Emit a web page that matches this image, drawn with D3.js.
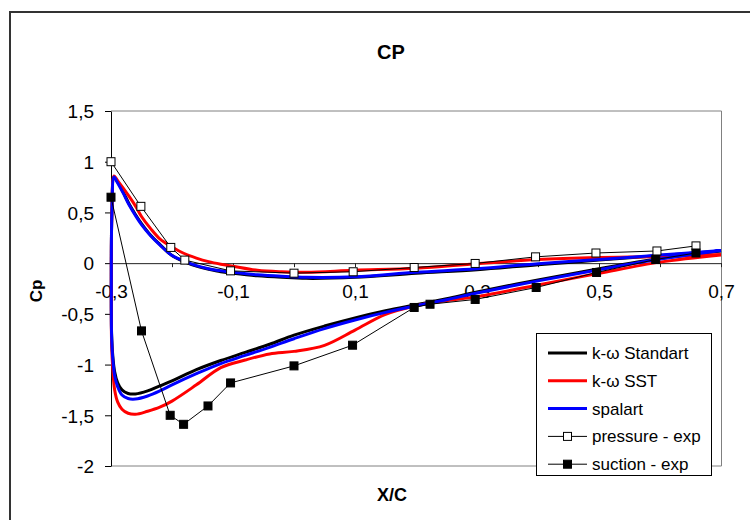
<!DOCTYPE html>
<html>
<head>
<meta charset="utf-8">
<script src="https://cdn.jsdelivr.net/npm/d3@7"></script>
<style>
  html, body { margin: 0; padding: 0; background: #fff; }
  svg { display: block; font-family: "Liberation Sans", Arial, sans-serif; }
</style>
</head>
<body>
<svg id="chart" width="750" height="520"></svg>
<script>
// Pressure coefficient distributions: three turbulence models vs. experiment.

// Suction side stations (from the stagnation point to the trailing edge)
const suctionX = [-0.295, -0.2985, -0.2995, -0.2995, -0.299, -0.297, -0.294, -0.289, -0.282, -0.272,
                  -0.26, -0.24, -0.22, -0.2, -0.16, -0.12, -0.08, -0.04, 0, 0.05,
                  0.1, 0.15, 0.2, 0.25, 0.3, 0.4, 0.5, 0.6, 0.7];
const suctionKwStd = [0.85, 0.5, 0.0, -0.4, -0.7, -0.92, -1.07, -1.18, -1.25, -1.285,
                      -1.29, -1.26, -1.21, -1.16, -1.05, -0.96, -0.88, -0.80, -0.71, -0.62,
                      -0.54, -0.47, -0.41, -0.35, -0.285, -0.165, -0.055, 0.045, 0.12];
const suctionKwSst = [0.86, 0.5, 0.0, -0.4, -0.8, -1.05, -1.25, -1.37, -1.44, -1.48,
                      -1.49, -1.46, -1.42, -1.36, -1.2, -1.03, -0.955, -0.895, -0.87, -0.81,
                      -0.66, -0.505, -0.42, -0.37, -0.33, -0.215, -0.1, 0.01, 0.08];
const suctionSpalart = [0.85, 0.5, 0.0, -0.4, -0.72, -0.95, -1.11, -1.22, -1.3, -1.335,
                        -1.34, -1.31, -1.26, -1.2, -1.09, -0.99, -0.91, -0.83, -0.745, -0.645,
                        -0.56, -0.485, -0.42, -0.36, -0.295, -0.175, -0.065, 0.04, 0.125];

// Pressure side stations (from the stagnation point to the trailing edge)
const pressureX = [-0.295, -0.29, -0.28, -0.27, -0.26, -0.25, -0.235, -0.22, -0.2, -0.18,
                   -0.16, -0.14, -0.12, -0.1, -0.06, -0.02, 0.02, 0.1, 0.2, 0.3,
                   0.4, 0.5, 0.6, 0.7];
const pressureKwStd = [0.86, 0.81, 0.70, 0.58, 0.48, 0.39, 0.275, 0.185, 0.075, 0.015,
                       -0.03, -0.06, -0.085, -0.10, -0.125, -0.14, -0.15, -0.14, -0.10, -0.065,
                       -0.015, 0.03, 0.075, 0.12];
const pressureKwSst = [0.86, 0.82, 0.74, 0.655, 0.565, 0.46, 0.34, 0.24, 0.16, 0.095,
                       0.05, 0.015, -0.01, -0.03, -0.07, -0.085, -0.09, -0.07, -0.05, -0.005,
                       0.035, 0.055, 0.065, 0.085];
const pressureSpalart = [0.85, 0.80, 0.69, 0.57, 0.47, 0.38, 0.27, 0.18, 0.075, 0.02,
                         -0.025, -0.055, -0.075, -0.09, -0.115, -0.13, -0.14, -0.135, -0.09, -0.055,
                         -0.005, 0.035, 0.08, 0.125];

// Experimental data
const pressureExpX = [-0.3, -0.251, -0.202, -0.179, -0.104, 0.0, 0.097, 0.197, 0.297, 0.396, 0.495, 0.595, 0.659];
const pressureExpCp = [1.0, 0.56, 0.155, 0.03, -0.076, -0.099, -0.085, -0.043, -0.003, 0.062, 0.10, 0.12, 0.17];
const suctionExpX = [-0.3, -0.25, -0.203, -0.181, -0.141, -0.104, 0.0, 0.096, 0.197, 0.223, 0.297, 0.397, 0.496, 0.593, 0.659];
const suctionExpCp = [0.65, -0.668, -1.50, -1.589, -1.408, -1.181, -1.013, -0.809, -0.437, -0.405, -0.358, -0.24, -0.092, 0.036, 0.10];

// Axis ticks
const xTicks = [-0.3, -0.2, -0.1, 0, 0.1, 0.2, 0.3, 0.4, 0.5, 0.6, 0.7];
const xTickLabels = [-0.3, -0.1, 0.1, 0.3, 0.5, 0.7];
const yTicks = [-2, -1.5, -1, -0.5, 0, 0.5, 1, 1.5];

const seriesNames = ["k-ω Standart", "k-ω SST", "spalart", "pressure - exp", "suction - exp"];
const seriesColors = ["#000000", "#ff0000", "#0000ff", "#000000", "#000000"];

const svg = d3.select("#chart");
const fmt = v => String(+v.toFixed(1)).replace(".", ",");

// outer chart frame
svg.append("rect").attr("x", 10).attr("y", 12).attr("width", 760).attr("height", 540)
  .attr("fill", "#fff").attr("stroke", "#333").attr("stroke-width", 2);

const x = d3.scaleLinear().domain([-0.3, 0.7]).range([111, 721]);
const y = d3.scaleLinear().domain([-2, 1.5]).range([466, 111]);

// plot area frame (top, right, bottom)
const [x0, x1] = x.range();
const [yb, yt] = y.range();
svg.append("path")
  .attr("d", `M${x0},${yt}H${x1 + 0.5}V${yb}H${x0}`)
  .attr("fill", "none").attr("stroke", "#808080").attr("stroke-width", 1);

// title and axis titles
svg.append("text").attr("x", 391).attr("y", 59).attr("text-anchor", "middle")
  .attr("font-size", 20).attr("font-weight", "bold").text("CP");
svg.append("text").attr("x", 392).attr("y", 501).attr("text-anchor", "middle")
  .attr("font-size", 18).attr("font-weight", "bold").text("X/C");
svg.append("text").attr("transform", "translate(42,291) rotate(-90)").attr("text-anchor", "middle")
  .attr("font-size", 17).attr("font-weight", "bold").text("Cp");

// y axis
const yAxis = svg.append("g").attr("transform", `translate(${x0},0)`)
  .call(d3.axisLeft(y).tickValues(yTicks).tickFormat(fmt).tickSize(6).tickSizeOuter(0).tickPadding(11));
yAxis.selectAll("path, line").attr("stroke", "#000");
yAxis.selectAll("text").attr("font-size", 19).attr("font-family", "Liberation Sans, Arial, sans-serif")
  .attr("fill", "#000").attr("dy", "0.36em");

// x axis crossing at cp = 0
const xAxis = svg.append("g").attr("transform", `translate(0,${y(0)})`)
  .call(d3.axisBottom(x).tickValues(xTicks)
    .tickFormat(d => xTickLabels.some(v => Math.abs(v - d) < 1e-9) ? fmt(d) : "")
    .tickSize(4).tickSizeOuter(0).tickPadding(17));
xAxis.selectAll("path, line").attr("stroke", "#222");
xAxis.selectAll("text").attr("font-size", 19).attr("font-family", "Liberation Sans, Arial, sans-serif")
  .attr("fill", "#000");

// CFD curves
const line = d3.line().x(d => x(d[0])).y(d => y(d[1])).curve(d3.curveCatmullRom.alpha(0.5));
const loop = (sx, sv, px, pv) => {
  const s = sx.map((v, i) => [v, sv[i]]).reverse();
  const p = px.map((v, i) => [v, pv[i]]).slice(1);
  return s.concat(p);
};
const models = [
  loop(suctionX, suctionKwStd, pressureX, pressureKwStd),
  loop(suctionX, suctionKwSst, pressureX, pressureKwSst),
  loop(suctionX, suctionSpalart, pressureX, pressureSpalart)
];
models.forEach((pts, i) => {
  svg.append("path").datum(pts).attr("d", line)
    .attr("fill", "none").attr("stroke", seriesColors[i]).attr("stroke-width", 3)
    .attr("stroke-linejoin", "round");
});

// experimental series
const expLine = d3.line().x(d => x(d[0])).y(d => y(d[1]));
const expSeries = [
  { pts: pressureExpX.map((v, i) => [v, pressureExpCp[i]]), fill: "#fff" },
  { pts: suctionExpX.map((v, i) => [v, suctionExpCp[i]]), fill: "#000" }
];
const ms = 8;
expSeries.forEach(s => {
  svg.append("path").datum(s.pts).attr("d", expLine)
    .attr("fill", "none").attr("stroke", "#000").attr("stroke-width", 1);
  svg.append("g").selectAll("rect").data(s.pts).join("rect")
    .attr("x", d => x(d[0]) - ms / 2).attr("y", d => y(d[1]) - ms / 2)
    .attr("width", ms).attr("height", ms)
    .attr("fill", s.fill).attr("stroke", "#000").attr("stroke-width", 1);
});

// legend
const lg = svg.append("g");
lg.append("rect").attr("x", 536.5).attr("y", 333.5).attr("width", 175).attr("height", 142)
  .attr("fill", "#fff").attr("stroke", "#000").attr("stroke-width", 1);
seriesNames.forEach((name, i) => {
  const cy = 353 + i * 27.8;
  lg.append("line").attr("x1", 548).attr("x2", 587).attr("y1", cy).attr("y2", cy)
    .attr("stroke", seriesColors[i]).attr("stroke-width", i < 3 ? 3 : 1);
  if (i >= 3) {
    lg.append("rect").attr("x", 567.5 - ms / 2).attr("y", cy - ms / 2).attr("width", ms).attr("height", ms)
      .attr("fill", i === 3 ? "#fff" : "#000").attr("stroke", "#000");
  }
  lg.append("text").attr("x", 592).attr("y", cy).attr("dy", "0.35em")
    .attr("font-size", 17).text(name);
});
</script>
</body>
</html>
